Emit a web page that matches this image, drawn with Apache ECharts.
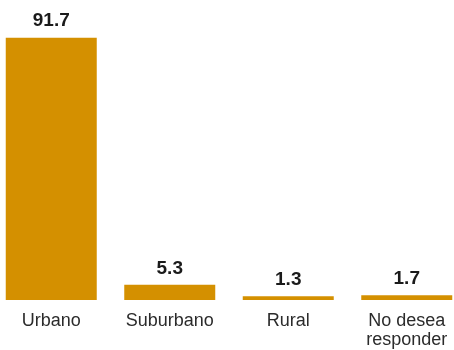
<!DOCTYPE html>
<html><head><meta charset="utf-8">
<script src="https://cdn.jsdelivr.net/npm/echarts@6/dist/echarts.min.js"></script>
<style>html,body{margin:0;padding:0;background:#fff;overflow:hidden;width:454px;height:350px}#c{width:474px;height:350px;margin-left:-8px}</style>
</head><body><div id="c"></div>
<script>
var categories = ['Urbano', 'Suburbano', 'Rural', 'No desea\nresponder'];
var values = [91.7, 5.3, 1.3, 1.7];

var chart = echarts.init(document.getElementById('c'), null, {renderer: 'canvas'});
chart.setOption({
  animation: false,
  grid: {left: 0, right: 0, top: 14, bottom: 49, containLabel: false},
  xAxis: {
    type: 'category', data: categories,
    axisLine: {show: false}, axisTick: {show: false},
    axisLabel: {color: '#2b2b2b', fontFamily: 'Liberation Sans, Arial, sans-serif', fontSize: 18, lineHeight: 19, margin: 12, interval: 0}
  },
  yAxis: {type: 'value', min: 0, max: 100, show: false, splitLine: {show: false}},
  series: [{
    type: 'bar', data: values, barWidth: 91,
    itemStyle: {color: '#D49000'},
    label: {show: true, position: 'top', distance: 7, color: '#1a1a1a', fontWeight: 'bold', fontSize: 19, fontFamily: 'Liberation Sans, Arial, sans-serif', formatter: function(p){return p.value.toFixed(1);}}
  }]
});
</script></body></html>
